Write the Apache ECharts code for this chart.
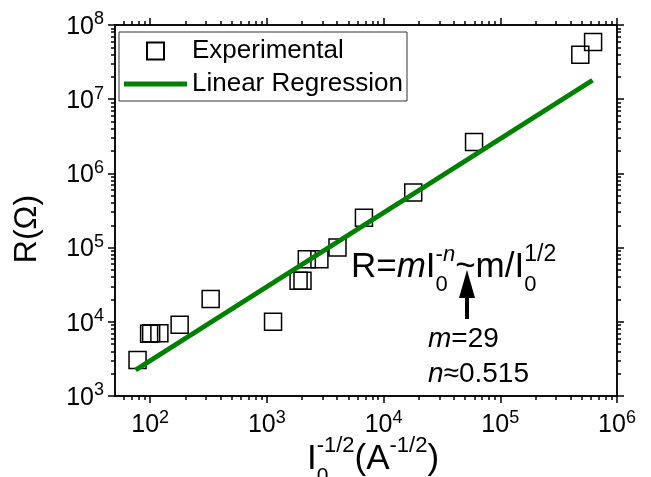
<!DOCTYPE html>
<html>
<head>
<meta charset="utf-8">
<script src="https://cdn.jsdelivr.net/npm/echarts@6/dist/echarts.min.js"></script>
<style>
  html, body { margin: 0; padding: 0; background: #fff; }
  #chart { width: 651px; height: 477px; }
</style>
</head>
<body>
<div id="chart"></div>
<script>
// experimental points: x = I0^-1/2 (A^-1/2), y = R (ohm)
const expX = [78, 98, 102, 120, 179, 330, 1130, 1870, 2020, 2200, 2820, 4030, 6790, 17950, 59600, 485000, 624000];
const expY = [3050, 6900, 7000, 7000, 9100, 20300, 10000, 35700, 35700, 69800, 69800, 100000, 253000, 553000, 2650000, 39800000, 59000000];
// regression line end points
const fitX = [75, 617000];
const fitY = [2240, 18000000];
// axis decades
const xMajor = [100, 1000, 10000, 100000, 1000000];
const yMajor = [1000, 10000, 100000, 1000000, 10000000, 100000000];
const xMin = 50, xMax = 1000000, yMin = 1000, yMax = 100000000;

const FONT = '"Liberation Sans", Arial, sans-serif';

function minors(lo, hi) {
  const out = [];
  for (let d = 1; d < hi; d *= 10) {
    for (let k = 2; k <= 9; k++) {
      const v = k * d;
      if (v > lo && v < hi) out.push(v);
    }
  }
  return out;
}

const supRich = {
  b: { fontSize: 25, lineHeight: 29, verticalAlign: 'bottom', fontFamily: FONT, color: '#000' },
  s: { fontSize: 18, lineHeight: 18, verticalAlign: 'top', fontFamily: FONT, color: '#000' }
};
const pow10 = v => '{b|10}{s|' + Math.round(Math.log10(v)) + '}';

function axis(kind, pos, ticks, len, label) {
  const a = {
    type: 'log', logBase: 10,
    min: kind === 'x' ? xMin : yMin,
    max: kind === 'x' ? xMax : yMax,
    position: pos,
    axisLine: { show: true, onZero: false, lineStyle: { color: '#000', width: 1.5 } },
    axisTick: { show: true, inside: false, length: len, customValues: ticks, lineStyle: { color: '#000', width: 1.5 } },
    axisLabel: { show: false },
    splitLine: { show: false },
    minorTick: { show: false }
  };
  if (label) {
    a.axisLabel = {
      show: true, customValues: ticks, formatter: pow10, rich: supRich,
      margin: kind === 'x' ? 13 : 11
    };
  }
  return a;
}

// text runs with sub/superscripts, laid out by measuring
const mctx = document.createElement('canvas').getContext('2d');
function measure(t, size, it) {
  mctx.font = (it ? 'italic ' : '') + size + 'px "Liberation Sans"';
  return mctx.measureText(t).width;
}
function layout(x, base, pieces, out) {
  let x0 = x;
  pieces.forEach(p => {
    if (p.stack) {
      let w = 0;
      p.stack.forEach(run => { w = Math.max(w, layout(x, base, run, out)); });
      x += w;
    } else {
      out.push({
        type: 'text', x: x, y: base + (p.dy || 0) - 0.31 * p.size, z: 100,
        style: {
          text: p.t, fill: '#000', fontSize: p.size, fontFamily: FONT,
          fontStyle: p.it ? 'italic' : 'normal', align: 'left', verticalAlign: 'middle'
        }
      });
      x += measure(p.t, p.size, p.it);
    }
  });
  return x - x0;
}
function runWidth(pieces) {
  return layout(0, 0, pieces, []);
}

const graphics = [];

// formula R = m I0^-n ~ m / I0^1/2
const B = 35, S = 22;
layout(351, 278, [
  { t: 'R=', size: B }, { t: 'm', size: B, it: true }, { t: 'I', size: B },
  { stack: [[{ t: '0', size: S, dy: 14 }], [{ t: '-', size: S, dy: -16 }, { t: 'n', size: S, dy: -16, it: true }]] },
  { t: '~', size: B }, { t: 'm/I', size: B },
  { stack: [[{ t: '0', size: S, dy: 14 }], [{ t: '1/2', size: S + 1, dy: -16 }]] }
], graphics);
layout(428, 348, [{ t: 'm', size: 28, it: true }, { t: '=29', size: 28 }], graphics);
layout(428, 383, [{ t: 'n', size: 28, it: true }, { t: '\u22480.515', size: 28 }], graphics);

// arrow
graphics.push({ type: 'line', z: 100, shape: { x1: 467, y1: 319, x2: 467, y2: 294 }, style: { stroke: '#000', lineWidth: 4 } });
graphics.push({ type: 'polygon', z: 100, shape: { points: [[459, 298], [475, 298], [467, 270]] }, style: { fill: '#000' } });

// x axis title
const xTitle = [
  { t: 'I', size: 35 },
  { stack: [[{ t: '0', size: 21, dy: 13 }], [{ t: '-1/2', size: 22, dy: -17 }]] },
  { t: '(A', size: 35 }, { t: '-1/2', size: 22, dy: -17 }, { t: ')', size: 35 }
];
layout(373 - runWidth(xTitle) / 2, 470, xTitle, graphics);

// y axis title
graphics.push({
  type: 'text', x: 27, y: 229, rotation: Math.PI / 2, z: 100,
  style: { text: 'R(\u03a9)', fill: '#000', fontSize: 32, fontFamily: FONT, align: 'center', verticalAlign: 'middle' }
});

const chart = echarts.init(document.getElementById('chart'));
chart.setOption({
  animation: false,
  backgroundColor: '#fff',
  grid: { left: 115, right: 34, top: 25, bottom: 81 },
  legend: {
    orient: 'vertical', left: 119, top: 32,
    padding: [4, 4, 2, 4], itemGap: 3,
    itemWidth: 63, itemHeight: 17,
    borderColor: '#333', borderWidth: 1,
    textStyle: { fontSize: 26, lineHeight: 30, fontFamily: FONT, color: '#000' },
    data: [
      { name: 'Experimental', icon: 'path://M0,0M23,0H40V17H23ZM63,17' },
      { name: 'Linear Regression', icon: 'path://M0,0M0,6H63V11H0ZM63,17' }
    ]
  },
  xAxis: [
    axis('x', 'bottom', xMajor, 7, true),
    axis('x', 'bottom', minors(xMin, xMax), 4, false),
    axis('x', 'top', xMajor, 7, false),
    axis('x', 'top', minors(xMin, xMax), 4, false)
  ],
  yAxis: [
    axis('y', 'left', yMajor, 7, true),
    axis('y', 'left', minors(yMin, yMax), 4, false),
    axis('y', 'right', yMajor, 7, false),
    axis('y', 'right', minors(yMin, yMax), 4, false)
  ],
  series: [
    {
      name: 'Experimental', type: 'scatter', symbol: 'rect', symbolSize: 17,
      data: expX.map((x, i) => [x, expY[i]]),
      itemStyle: { color: 'rgba(0,0,0,0)', borderColor: '#000', borderWidth: 1.5, opacity: 1 },
      z: 2
    },
    {
      name: 'Linear Regression', type: 'line', symbol: 'none',
      data: fitX.map((x, i) => [x, fitY[i]]),
      lineStyle: { color: '#008000', width: 5 },
      itemStyle: { color: '#008000' },
      z: 3
    }
  ],
  graphic: graphics
});
</script>
</body>
</html>
